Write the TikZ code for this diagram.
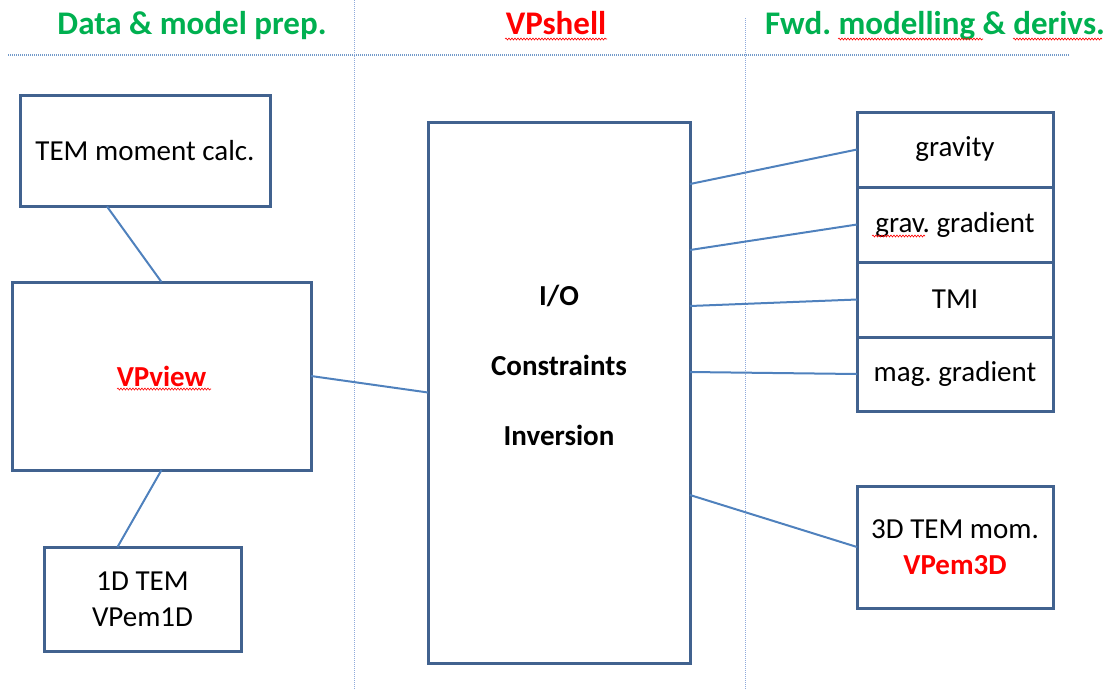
\documentclass[tikz,border=0pt]{standalone}
\usepackage{fontspec}
\setmainfont{Carlito}
\frenchspacing
\usetikzlibrary{positioning,decorations.pathmorphing}
\definecolor{boxblue}{HTML}{41628F}
\definecolor{lineblue}{HTML}{4F81BD}
\definecolor{hdrgreen}{HTML}{00B050}
\definecolor{sepblue}{HTML}{8EA9DB}

\begin{document}
\begin{tikzpicture}[
x=1pt,
y=-1pt,
box/.style={
  draw=boxblue,
  line width=3pt,
  fill=white,
  inner sep=0pt,
  outer sep=0pt,
  align=center,
  font=\fontsize{29}{36}\selectfont
  },
conn/.style={
  draw=lineblue,
  line width=2pt
  },
hdr/.style={
  inner sep=0pt,
  anchor=base,
  font=\fontsize{33}{40}\selectfont\bfseries,
  text=hdrgreen
  },
sep/.style={
  draw=sepblue,
  line width=1pt,
  densely dotted
  },
squig/.style={
  draw=red,
  line width=0.6pt,
  decorate,
  decoration={snake,amplitude=1pt,segment length=3pt}
  }
]
\useasboundingbox (0,0) rectangle (1110,689);

% column headers and separators
\node[hdr] (hprep) at (192,34) {Data \& model prep.};
\node[hdr, text=red] (hshell) at (556,34) {VPshell};
\node[hdr] (hfwd) at (935,34) {Fwd. modelling \& derivs.};
\draw[sep, line width=1.5pt, draw=lineblue!80] (8,55) -- (1070,55);
\draw[sep] (354,0) -- (354,689);
\draw[sep] (745,18) -- (745,689);

% left column
\node[box, minimum width=250pt, minimum height=111pt] (tem) at (145,151) {TEM moment calc.};
\node[box, minimum width=299pt, minimum height=188pt] (view) at (161.5,376) {\bfseries\textcolor{red}{VPview}};
\node[box, minimum width=197pt, minimum height=104pt] (tem1d) at (142.5,599) {1D TEM\\VPem1D};

% shell
\node[box, minimum width=262pt, minimum height=541pt] (shell) at (559,392.5) {};
\node[align=center, font=\fontsize{29}{35}\selectfont\bfseries] (shelltxt) at ([yshift=27pt]shell.center) {I/O\\[35pt]Constraints\\[35pt]Inversion};

% right column
\node[box, minimum width=196pt, minimum height=75pt] (grav) at (955,149.5) {gravity};
\node[box, minimum width=196pt, minimum height=75pt, below=0pt of grav] (ggrad) {grav. gradient};
\node[box, minimum width=196pt, minimum height=75pt, below=0pt of ggrad] (tmi) {TMI};
\node[box, minimum width=196pt, minimum height=74pt, below=0pt of tmi] (mgrad) {mag. gradient};
\node[box, minimum width=196pt, minimum height=122pt] (tem3d) at (955,547) {3D TEM mom.\\\textcolor{red}{\bfseries VPem3D}};

% connectors
\draw[conn] ([xshift=-38pt]tem.south) -- (view.north);
\draw[conn] (view.south) -- ([xshift=-25pt]tem1d.north);
\draw[conn] (view.east) -- (shell.west);
\foreach \dy/\tgt in {62/grav, 128/ggrad, 184/tmi, 250/mgrad, 373/tem3d}
  \draw[conn] ([yshift=-\dy pt]shell.north east) -- (\tgt.west);

% spelling marks
\draw[squig] (505,39) -- (607,39);
\draw[squig] (838,39) -- (983,39);
\draw[squig] (1013,39) -- (1102,39);
\draw[squig] (117,389) -- (211,389);
\draw[squig] (872,236) -- (925,236);
\end{tikzpicture}
\end{document}
